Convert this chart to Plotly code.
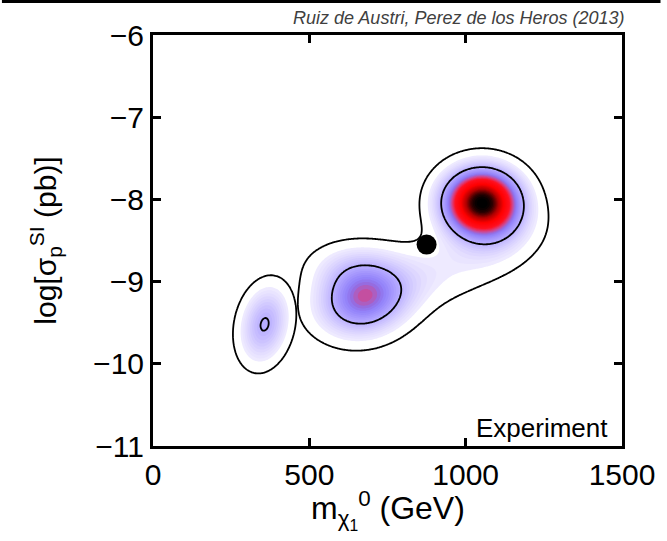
import numpy as np
import plotly.graph_objects as go

# ---- values ----
# posterior modes (GeV, log10 pb), widths, tilt, relative heights, cluster id
mode_mass = [1052, 673, 357, 906, 1120, 622]
mode_logsigma = [-8.04, -9.21, -9.52, -8.89, -8.45, -8.80]
width_mass = [84, 97, 56, 226, 70, 100]
width_logsigma = [0.28, 0.31, 0.33, 0.40, 0.25, 0.22]
tilt = [0.0, 0.1, 0.2, 0.64, 0.3, 0.0]
height = [1.0, 0.43, 0.312, 0.12, 0.04, 0.10]
cluster = [1, 1, 0, 1, 1, 1]

level_68 = 0.30   # inner (68%) contour, relative density
level_95 = 0.06   # outer (95%) contour, relative density

best_fit_mass = [875]
best_fit_logsigma = [-8.55]

x_ticks = [0, 500, 1000, 1500]
y_ticks = [-11, -10, -9, -8, -7, -6]

# ---- grid of the relative posterior density ----
xg = np.linspace(0, 1500, 376)
yg = np.linspace(-11, -6, 301)
X, Y = np.meshgrid(xg, yg)
parts = {}
for mx, my, sx, sy, r, h, c in zip(mode_mass, mode_logsigma, width_mass,
                                    width_logsigma, tilt, height, cluster):
    dx = (X - mx) / sx
    dy = (Y - my) / sy
    q = (dx * dx - 2 * r * dx * dy + dy * dy) / (1 - r * r)
    parts[c] = parts.get(c, 0) + h * np.exp(-0.5 * q)
Z = np.maximum.reduce(list(parts.values()))
Z = Z / Z.max()

colorscale = [
    [0.0, "#ffffff"], [0.059, "#ffffff"], [0.06, "#f2efff"],
    [0.12, "#e4deff"], [0.20, "#cec5ff"], [0.30, "#b0a4ff"],
    [0.40, "#9484fa"], [0.44, "#9070e8"], [0.50, "#d04890"],
    [0.58, "#ff1020"], [0.72, "#ff0000"], [0.84, "#b00000"],
    [0.94, "#300000"], [1.0, "#000000"],
]

fig = go.Figure()
fig.add_trace(go.Contour(
    x=xg, y=yg, z=Z, zmin=0, zmax=1, colorscale=colorscale,
    contours=dict(start=level_95, end=1.0, size=0.02, coloring="fill"),
    line=dict(width=0), showscale=False, hoverinfo="skip",
))
fig.add_trace(go.Contour(
    x=xg, y=yg, z=Z,
    contours=dict(start=level_95, end=level_68, size=level_68 - level_95,
                  coloring="none"),
    line=dict(color="black", width=1.8), showscale=False, hoverinfo="skip",
))
fig.add_trace(go.Scatter(
    x=best_fit_mass, y=best_fit_logsigma, mode="markers",
    marker=dict(color="black", size=20), hoverinfo="skip",
))

axis_common = dict(
    showline=True, linecolor="black", linewidth=3, mirror="ticks",
    ticks="inside", ticklen=8, tickwidth=3, tickcolor="black",
    showgrid=False, zeroline=False,
    tickfont=dict(family="Liberation Sans, Arial", size=30, color="black"),
)

fig.update_layout(
    width=667, height=541,
    margin=dict(l=153, r=39, t=35, b=95),
    paper_bgcolor="white", plot_bgcolor="white",
    showlegend=False,
    font=dict(family="Liberation Sans, Arial", color="black"),
    xaxis=dict(range=[0, 1500], tickvals=x_ticks, **axis_common),
    yaxis=dict(range=[-11, -6], tickvals=y_ticks, **axis_common,
               title=dict(text="log[σ<sub>p</sub><sup>SI</sup> (pb)]",
                          font=dict(size=30), standoff=28)),
    annotations=[
        dict(text="m<sub>χ<sub>1</sub></sub><sup>0</sup> (GeV)",
             xref="paper", yref="paper", x=0.5, y=(446 - 484) / 411,
             xanchor="center", yanchor="top", showarrow=False,
             font=dict(size=32, color="black")),
        dict(text="<i>Ruiz de Austri, Perez de los Heros (2013)</i>",
             xref="paper", yref="paper", x=1.0 + 4 / 475, y=1.0 + 17 / 411,
             xanchor="right", yanchor="middle", showarrow=False,
             font=dict(size=18, color="#404040")),
        dict(text="Experiment", xref="paper", yref="paper",
             x=0.975, y=(446 - 428) / 411, xanchor="right", yanchor="middle",
             showarrow=False, font=dict(size=26, color="black")),
    ],
    shapes=[dict(type="line", xref="paper", yref="paper",
                 x0=-153 / 475, x1=1 + 39 / 475,
                 y0=1 + 33.5 / 411, y1=1 + 33.5 / 411,
                 line=dict(color="black", width=3))],
)

fig.write_html("out.html")
